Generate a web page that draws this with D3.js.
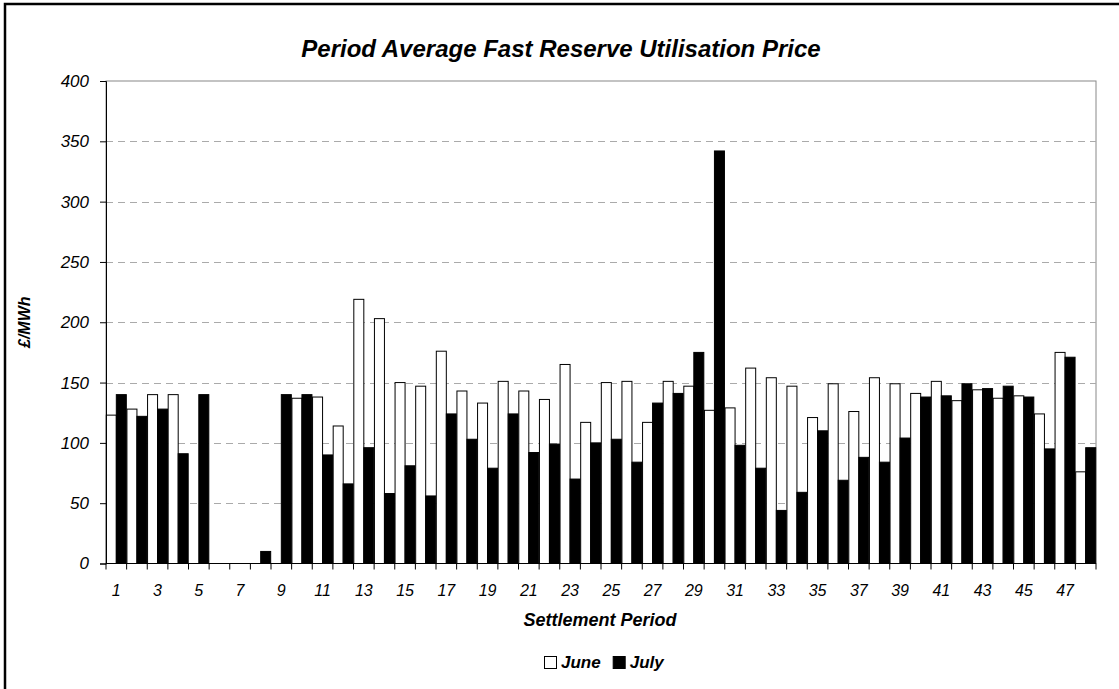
<!DOCTYPE html>
<html>
<head>
<title>Period Average Fast Reserve Utilisation Price</title>
<script src="https://cdn.jsdelivr.net/npm/d3@7"></script>
<style>
  body { margin: 0; background: #fff; }
  text { font-family: "Liberation Sans", Arial, sans-serif; font-style: italic; }
</style>
</head>
<body>
<div id="chart"></div>
<script>
// settlement periods 1..48
var periods = d3.range(1, 49);
var seriesNames = ["June", "July"];
var june = [123, 128, 140, 140, 0, 0, 0, 0, 0, 137, 138, 114,
            219, 203, 150, 147, 176, 143, 133, 151, 143, 136, 165, 117,
            150, 151, 117, 151, 147, 127, 129, 162, 154, 147, 121, 149,
            126, 154, 149, 141, 151, 135, 144, 137, 139, 124, 175, 76];
var july = [140, 122, 128, 91, 140, 0, 0, 10, 140, 140, 90, 66,
            96, 58, 81, 56, 124, 103, 79, 124, 92, 99, 70, 100,
            103, 84, 133, 141, 175, 342, 98, 79, 44, 59, 110, 69,
            88, 84, 104, 138, 139, 149, 145, 147, 138, 95, 171, 96];
var yTicks = [0, 50, 100, 150, 200, 250, 300, 350, 400];

var W = 1119, H = 689;
var margin = {left: 106, right: 1096, top: 81, bottom: 563.5};

var svg = d3.select("#chart").append("svg")
    .attr("width", W).attr("height", H);

// outer frame (only top/left visible in the original crop)
svg.append("rect")
    .attr("x", 5).attr("y", 4)
    .attr("width", W + 20).attr("height", H + 20)
    .attr("fill", "none").attr("stroke", "#000").attr("stroke-width", 2.5);

var x = d3.scaleBand().domain(periods).range([margin.left, margin.right])
    .paddingInner(0.03).paddingOuter(0.015);
var xs = d3.scaleBand().domain(seriesNames).range([0, x.bandwidth()]);
var y = d3.scaleLinear().domain([0, 400]).range([margin.bottom, margin.top]);

// plot area border
svg.append("rect")
    .attr("x", margin.left).attr("y", margin.top)
    .attr("width", margin.right - margin.left)
    .attr("height", margin.bottom - margin.top)
    .attr("fill", "none").attr("stroke", "#888").attr("stroke-width", 1);

// grid lines
svg.selectAll(".grid")
    .data(yTicks.filter(function (d) { return d > 0 && d < 400; }))
    .enter().append("line")
    .attr("x1", margin.left).attr("x2", margin.right)
    .attr("y1", function (d) { return Math.round(y(d)) + 0.5; })
    .attr("y2", function (d) { return Math.round(y(d)) + 0.5; })
    .attr("stroke", "#aaa").attr("stroke-dasharray", "7,5");

// bars
var rows = periods.map(function (p, i) {
  return {period: p, values: [{s: "June", v: june[i]}, {s: "July", v: july[i]}]};
});
var g = svg.selectAll(".cat").data(rows).enter().append("g")
    .attr("transform", function (d) { return "translate(" + x(d.period) + ",0)"; });
g.selectAll("rect")
    .data(function (d) { return d.values.filter(function (e) { return e.v > 0; }); })
    .enter().append("rect")
    .attr("x", function (d) { return xs(d.s); })
    .attr("width", xs.bandwidth())
    .attr("y", function (d) { return y(d.v); })
    .attr("height", function (d) { return y(0) - y(d.v); })
    .attr("fill", function (d) { return d.s === "June" ? "#fff" : "#000"; })
    .attr("stroke", "#000").attr("stroke-width", 1);

// y axis
var yAxis = d3.axisLeft(y).tickValues(yTicks).tickSize(6).tickPadding(11)
    .tickFormat(d3.format("d"));
var ya = svg.append("g").attr("transform", "translate(" + margin.left + ",0)").call(yAxis);
ya.select(".domain").attr("stroke", "#000");
ya.selectAll("text").style("font-size", "17px").attr("fill", "#000");

// x axis: ticks at category boundaries, labels on odd periods
var xa = svg.append("g");
xa.append("line")
    .attr("x1", margin.left).attr("x2", margin.right)
    .attr("y1", margin.bottom).attr("y2", margin.bottom)
    .attr("stroke", "#000");
var step = (margin.right - margin.left) / periods.length;
xa.selectAll(".tk").data(d3.range(0, periods.length + 1)).enter().append("line")
    .attr("x1", function (i) { return margin.left + i * step; })
    .attr("x2", function (i) { return margin.left + i * step; })
    .attr("y1", margin.bottom).attr("y2", margin.bottom + 6)
    .attr("stroke", "#000");
xa.selectAll(".lbl").data(periods.filter(function (p) { return p % 2 === 1; }))
    .enter().append("text")
    .attr("x", function (p) { return x(p) + x.bandwidth() / 2; })
    .attr("y", 596)
    .attr("text-anchor", "middle")
    .style("font-size", "16px")
    .text(function (p) { return p; });

// titles
svg.append("text").attr("x", 561).attr("y", 57).attr("text-anchor", "middle")
    .style("font-size", "24px").style("font-weight", "bold")
    .text("Period Average Fast Reserve Utilisation Price");
svg.append("text").attr("x", 600).attr("y", 626).attr("text-anchor", "middle")
    .style("font-size", "18px").style("font-weight", "bold")
    .text("Settlement Period");
svg.append("text")
    .attr("transform", "translate(30," + (margin.top + margin.bottom) / 2 + ") rotate(-90)")
    .attr("text-anchor", "middle")
    .style("font-size", "16px").style("font-weight", "bold")
    .text("£/MWh");

// legend
var legend = svg.append("g").attr("transform", "translate(544,656)");
var lx = 0;
seriesNames.forEach(function (s, i) {
  legend.append("rect").attr("x", lx + 0.5).attr("y", 0.5).attr("width", 12).attr("height", 12)
      .attr("fill", s === "June" ? "#fff" : "#000").attr("stroke", "#000");
  var t = legend.append("text").attr("x", lx + 17).attr("y", 12)
      .style("font-size", "17px").style("font-weight", "bold").text(s);
  lx += 17 + t.node().getComputedTextLength() + 12;
});
</script>
</body>
</html>
